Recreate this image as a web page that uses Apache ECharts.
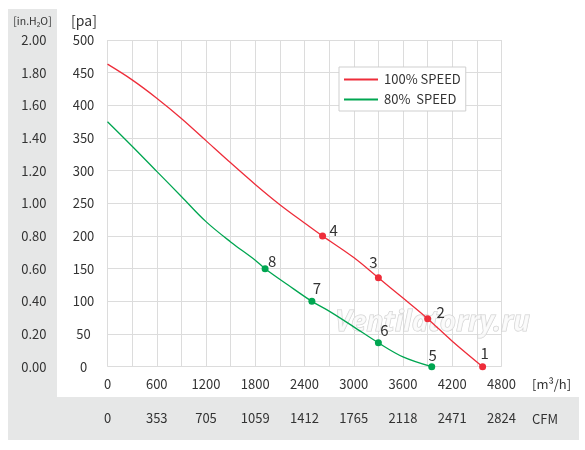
<!DOCTYPE html>
<html>
<head>
<meta charset="utf-8">
<script src="https://cdn.jsdelivr.net/npm/echarts@6/dist/echarts.min.js"></script>
<style>
html,body{margin:0;padding:0;background:#fff;}
#chart{width:585px;height:450px;}
</style>
</head>
<body>
<div id="chart"></div>
<script>
// ---- data ----
const redFlow = [0, 300, 600, 900, 1200, 1500, 1800, 2100, 2400, 2620, 3000, 3300, 3600, 3900, 4200, 4570];
const redPa   = [463, 439, 411, 380, 346, 312, 279, 248, 220, 200, 167, 136, 105, 73.5, 39, 0];
const greenFlow = [0, 300, 600, 900, 1200, 1500, 1800, 1920, 2200, 2490, 2700, 3000, 3300, 3600, 3950];
const greenPa   = [375, 337.5, 299, 260.5, 222, 191, 163, 150, 125, 100, 85, 61, 36.5, 15, 0];

const redPointFlow = [4570, 3900, 3300, 2620];
const redPointPa   = [0, 73.5, 136, 200];
const redPointLabels = ['1', '2', '3', '4'];
const greenPointFlow = [3950, 3300, 2490, 1920];
const greenPointPa   = [0, 36.5, 100, 150];
const greenPointLabels = ['5', '6', '7', '8'];

const seriesNames = ['100% SPEED', '80%  SPEED'];
const cfmLabels = ['0', '353', '705', '1059', '1412', '1765', '2118', '2471', '2824'];
const inH2OLabels = ['0.00', '0.20', '0.40', '0.60', '0.80', '1.00', '1.20', '1.40', '1.60', '1.80', '2.00'];

// ---- styling ----
const FONT = '"Noto Sans CJK SC", "Noto Sans", sans-serif';
const TXT = '#333';
const RED = '#ee2d3a';
const GREEN = '#00a651';
const GRIDC = '#dcdcdc';
const GREY = '#e6e7e7';
const redLabelOffsets = [[2, -13], [13, -6], [-5, -16], [11, -6]];
const greenLabelOffsets = [[1, -11], [6, -13], [5, -13], [7, -7]];

function pts(xs, ys) { return xs.map((x, i) => [x, ys[i]]); }
function labelled(xs, ys, labels, offs) {
  return xs.map((x, i) => ({ value: [x, ys[i]], name: labels[i], label: { offset: offs[i] } }));
}

const chart = echarts.init(document.getElementById('chart'), null, { renderer: 'canvas' });
chart.setOption({
  backgroundColor: '#fff',
  animation: false,
  textStyle: { fontFamily: FONT },
  grid: { left: 107.5, right: 83.5, top: 40, bottom: 83.3, containLabel: false },
  legend: {
    data: seriesNames,
    orient: 'vertical',
    left: 339, top: 67,
    backgroundColor: '#fff',
    borderColor: '#cfcfcf', borderWidth: 1,
    padding: [6, 5, 5, 5],
    icon: 'rect', itemWidth: 34, itemHeight: 2, itemGap: 7,
    textStyle: { fontSize: 13, color: TXT, fontFamily: FONT, padding: [0, 0, 0, 1] }
  },
  xAxis: [
    {
      type: 'value', min: 0, max: 4800, interval: 600, position: 'bottom',
      axisLine: { show: false }, axisTick: { show: false },
      minorTick: { show: false, splitNumber: 2 },
      splitLine: { show: true, lineStyle: { color: GRIDC, width: 1 } },
      minorSplitLine: { show: true, lineStyle: { color: GRIDC, width: 1 } },
      axisLabel: { color: TXT, fontSize: 13, margin: 11, fontFamily: FONT, formatter: v => String(v) }
    },
    {
      type: 'value', min: 0, max: 4800, interval: 600, position: 'bottom', offset: 34,
      axisLine: { show: false }, axisTick: { show: false }, splitLine: { show: false },
      axisLabel: { color: TXT, fontSize: 13, margin: 11, fontFamily: FONT,
        formatter: v => cfmLabels[Math.round(v / 600)] }
    }
  ],
  yAxis: [
    {
      type: 'value', min: 0, max: 500, interval: 50, position: 'left',
      axisLine: { show: false }, axisTick: { show: false },
      splitLine: { show: true, lineStyle: { color: GRIDC, width: 1 } },
      axisLabel: { color: TXT, fontSize: 13, margin: 24, align: 'center', fontFamily: FONT, formatter: v => String(v) }
    },
    {
      type: 'value', min: 0, max: 500, interval: 50, position: 'left',
      axisLine: { show: false }, axisTick: { show: false }, splitLine: { show: false },
      axisLabel: { color: TXT, fontSize: 13, margin: 61, align: 'right', fontFamily: FONT,
        formatter: v => inH2OLabels[Math.round(v / 50)] }
    }
  ],
  graphic: [
    { type: 'rect', shape: { x: 8, y: 9, width: 49, height: 431 }, style: { fill: GREY }, z: -10, silent: true },
    { type: 'rect', shape: { x: 57, y: 397, width: 522, height: 43 }, style: { fill: GREY }, z: -10, silent: true },
    { type: 'text', x: 32.5, y: 21, style: { text: '[in.H₂O]', font: '10.5px ' + FONT, fill: TXT, align: 'center', verticalAlign: 'middle' } },
    { type: 'text', x: 84, y: 21, style: { text: '[pa]', font: '14px ' + FONT, fill: TXT, align: 'center', verticalAlign: 'middle' } },
    { type: 'text', x: 532, y: 384.5, style: { text: '[m³/h]', font: '13px ' + FONT, fill: TXT, align: 'left', verticalAlign: 'middle' } },
    { type: 'text', x: 532, y: 419, style: { text: 'CFM', font: '13px ' + FONT, fill: TXT, align: 'left', verticalAlign: 'middle' } },
    { type: 'text', x: 335, y: 323, z: 1, silent: true,
      style: { text: 'Ventilatorry.ru', font: 'italic bold 28px "Noto Sans", sans-serif',
        fill: 'rgba(250,250,250,0.7)', stroke: '#cfcfcf', lineWidth: 1, align: 'left', verticalAlign: 'middle' } }
  ],
  series: [
    {
      name: seriesNames[0], type: 'line', smooth: 0.35, symbol: 'none',
      color: RED, lineStyle: { color: RED, width: 1.3 }, z: 3,
      data: pts(redFlow, redPa)
    },
    {
      name: seriesNames[1], type: 'line', smooth: 0.35, symbol: 'none',
      color: GREEN, lineStyle: { color: GREEN, width: 1.3 }, z: 3,
      data: pts(greenFlow, greenPa)
    },
    {
      name: 'red points', type: 'scatter', symbolSize: 7, z: 4,
      itemStyle: { color: RED, opacity: 1 },
      label: { show: true, position: 'inside', formatter: p => p.name, color: TXT, fontSize: 15, fontFamily: FONT },
      data: labelled(redPointFlow, redPointPa, redPointLabels, redLabelOffsets)
    },
    {
      name: 'green points', type: 'scatter', symbolSize: 7, z: 4,
      itemStyle: { color: GREEN, opacity: 1 },
      label: { show: true, position: 'inside', formatter: p => p.name, color: TXT, fontSize: 15, fontFamily: FONT },
      data: labelled(greenPointFlow, greenPointPa, greenPointLabels, greenLabelOffsets)
    }
  ]
});
</script>
</body>
</html>
